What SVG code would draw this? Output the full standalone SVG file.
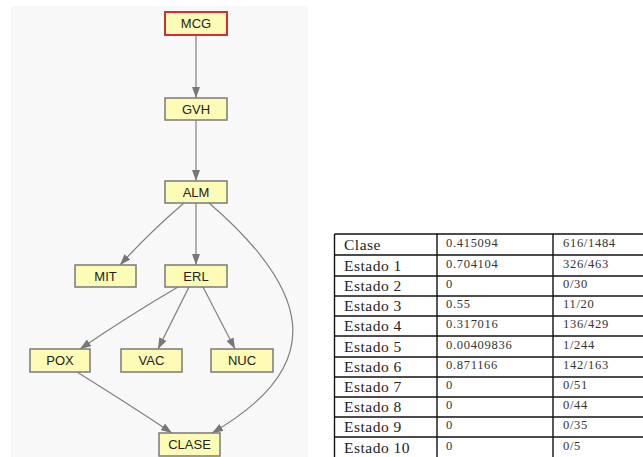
<svg xmlns="http://www.w3.org/2000/svg" width="643" height="457" viewBox="0 0 643 457">
<defs>
<style>
.node rect{fill:#fdfbb6;stroke:#7a7a7a;stroke-width:1.5}
#n-MCG rect{stroke:#cc3030;stroke-width:2}
.node text{font-family:"Liberation Sans",Arial,sans-serif;font-size:13px;fill:#222;text-anchor:middle}
.edge{fill:none;stroke:#808080;stroke-width:1.2;marker-end:url(#ah)}
.tl{stroke:#111;stroke-width:1.4}
.tc1{font-family:"Liberation Serif","Times New Roman",serif;font-size:15.5px;letter-spacing:0.5px;fill:#222}
.tc2{font-family:"Liberation Serif","Times New Roman",serif;font-size:12.5px;letter-spacing:0.7px;fill:#333}
</style>
<marker id="ah" markerWidth="11" markerHeight="8" refX="11" refY="4" orient="auto" markerUnits="userSpaceOnUse">
<path d="M0,0 L11,4 L0,8 Z" fill="#777"/>
</marker>
</defs>
<rect width="643" height="457" fill="#fff"/>
<rect x="11" y="6" width="297" height="451" fill="#f7f8f7"/>
<g id="edges">
<path class="edge" d="M196,35 L196,98"/>
<path class="edge" d="M196,120 L196,181"/>
<path class="edge" d="M184,203 Q150,232 120,265"/>
<path class="edge" d="M196,203 L196,265"/>
<path class="edge" d="M209,203 C310,290 330,365 212,433"/>
<path class="edge" d="M178,287 Q130,315 80,349"/>
<path class="edge" d="M189,287 L158,349"/>
<path class="edge" d="M203,287 L235,349"/>
<path class="edge" d="M77,372 Q130,405 172,433"/>
</g>
<g id="n-MCG" class="node"><rect x="165" y="12" width="62" height="23"/><text x="196" y="28">MCG</text></g>
<g id="n-GVH" class="node"><rect x="165" y="98" width="62" height="22"/><text x="196" y="114">GVH</text></g>
<g id="n-ALM" class="node"><rect x="165" y="181" width="62" height="22"/><text x="196" y="197">ALM</text></g>
<g id="n-MIT" class="node"><rect x="75" y="265" width="61" height="22"/><text x="105.5" y="281">MIT</text></g>
<g id="n-ERL" class="node"><rect x="165" y="265" width="62" height="22"/><text x="196" y="281">ERL</text></g>
<g id="n-POX" class="node"><rect x="30" y="349" width="60" height="23"/><text x="60" y="365">POX</text></g>
<g id="n-VAC" class="node"><rect x="121" y="349" width="61" height="23"/><text x="151.5" y="365">VAC</text></g>
<g id="n-NUC" class="node"><rect x="211" y="349" width="62" height="23"/><text x="242" y="365">NUC</text></g>
<g id="n-CLASE" class="node"><rect x="159" y="433" width="61" height="23"/><text x="189.5" y="449">CLASE</text></g>
<g id="table">
<rect x="334.5" y="234" width="320" height="230" fill="#fff"/>
<g class="tl">
<line x1="334.5" y1="234" x2="643" y2="234"/>
<line x1="334.5" y1="255" x2="643" y2="255"/>
<line x1="334.5" y1="276" x2="643" y2="276"/>
<line x1="334.5" y1="296" x2="643" y2="296"/>
<line x1="334.5" y1="316" x2="643" y2="316"/>
<line x1="334.5" y1="336" x2="643" y2="336"/>
<line x1="334.5" y1="357" x2="643" y2="357"/>
<line x1="334.5" y1="377" x2="643" y2="377"/>
<line x1="334.5" y1="397" x2="643" y2="397"/>
<line x1="334.5" y1="417" x2="643" y2="417"/>
<line x1="334.5" y1="437" x2="643" y2="437"/>
<line x1="334.5" y1="234" x2="334.5" y2="457"/>
<line x1="437" y1="234" x2="437" y2="457"/>
<line x1="553" y1="234" x2="553" y2="457"/>
</g>
<g class="tc1">
<text x="344" y="250">Clase</text>
<text x="344" y="271">Estado 1</text>
<text x="344" y="291">Estado 2</text>
<text x="344" y="311">Estado 3</text>
<text x="344" y="331">Estado 4</text>
<text x="344" y="352">Estado 5</text>
<text x="344" y="372">Estado 6</text>
<text x="344" y="392">Estado 7</text>
<text x="344" y="412">Estado 8</text>
<text x="344" y="432">Estado 9</text>
<text x="344" y="453">Estado 10</text>
</g>
<g class="tc2">
<text x="446" y="247">0.415094</text><text x="563" y="247">616/1484</text>
<text x="446" y="268">0.704104</text><text x="563" y="268">326/463</text>
<text x="446" y="288">0</text><text x="563" y="288">0/30</text>
<text x="446" y="308">0.55</text><text x="563" y="308">11/20</text>
<text x="446" y="328">0.317016</text><text x="563" y="328">136/429</text>
<text x="446" y="349">0.00409836</text><text x="563" y="349">1/244</text>
<text x="446" y="369">0.871166</text><text x="563" y="369">142/163</text>
<text x="446" y="389">0</text><text x="563" y="389">0/51</text>
<text x="446" y="409">0</text><text x="563" y="409">0/44</text>
<text x="446" y="429">0</text><text x="563" y="429">0/35</text>
<text x="446" y="450">0</text><text x="563" y="450">0/5</text>
</g>
</g>
</svg>
